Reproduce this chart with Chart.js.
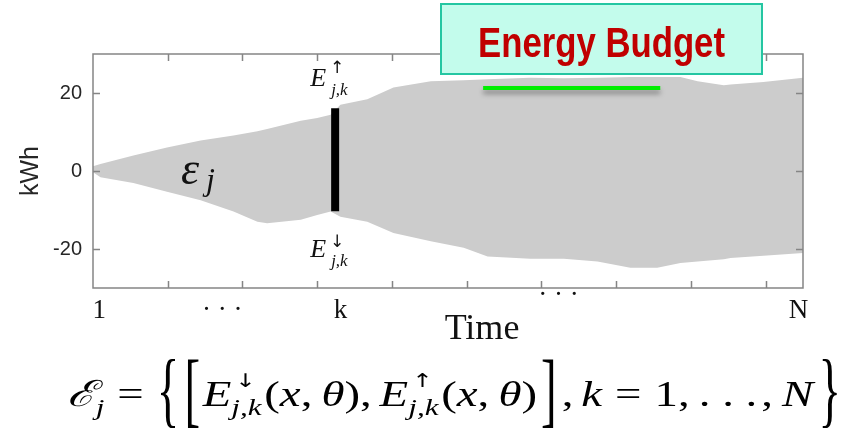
<!DOCTYPE html>
<html>
<head>
<meta charset="utf-8">
<script src="https://cdn.jsdelivr.net/npm/chart.js@4.4.1/dist/chart.umd.min.js"></script>
<style>
  html, body { margin: 0; padding: 0; background: #fff; overflow: hidden; }
  #c { display: block; }
</style>
</head>
<body>
<canvas id="c" width="856" height="430"></canvas>
<script>
// envelope of the energy set
const timeX    = [0, 1, 5.4, 9.9, 14.4, 18.8, 22, 23.3, 27.8, 30, 31.8, 33.1, 36.7, 40.2, 45.2, 49.6, 52.8, 58.5, 63, 67.5, 71.9, 75.5, 78.6, 80.9, 84.4, 85.3, 89.7, 95];
const upperKWh = [1.2, 1.8, 4, 6, 7.8, 9.1, 10.2, 10.8, 12.9, 13.6, 14.4, 17, 18.4, 21.4, 23, 23.3, 23.5, 23.9, 23.8, 23.9, 24.1, 24.1, 24.1, 23, 22, 22.2, 22.8, 23.9];
const lowerKWh = [-0.3, -1.6, -3.1, -5.3, -7.5, -10.4, -13, -13.4, -12.5, -11.3, -10.4, -11.7, -13, -15.9, -18, -19.7, -21.9, -22.5, -22.5, -23.2, -24.8, -24.8, -23.6, -23.2, -22.6, -22.3, -21.7, -21];

// interval at step k and the energy budget line
const barX = [32.4, 32.4];
const barY = [-10.3, 16.1];
const budgetX = [52.2, 75.9];
const budgetY = [21.3, 21.3];

// axes
const yTicks = [-20, 0, 20];
const xTickMarks = [10, 20, 30, 40, 50, 60, 70, 80, 90];
const xLabelVals = [0.85, 17.3, 33.1, 62.3, 94.4];
const xLabelText = ['1', '\u00b7 \u00b7 \u00b7', 'k', '\u00b7 \u00b7 \u00b7', 'N'];

const pts = (xs, ys) => xs.map((x, i) => ({ x, y: ys[i] }));

const SERIF = '"Liberation Serif", "DejaVu Serif", serif';

function drawE(ctx, x, y, arrow) {
  ctx.font = 'italic 26px ' + SERIF;
  ctx.textAlign = 'left';
  ctx.fillText('E', x, y);
  ctx.font = '17px "DejaVu Sans"';
  ctx.textAlign = 'center';
  ctx.fillText(arrow, x + 27, arrow === '\u2191' ? y - 13 : y - 10);
  ctx.font = 'italic 17px ' + SERIF;
  ctx.textAlign = 'left';
  ctx.fillText('j,k', x + 21, y + 9);
}

// formula under the plot, laid out run by run
const I36 = 'italic 36px ' + SERIF, N36 = '36px ' + SERIF, I24 = 'italic 24px ' + SERIF, AR = '19px "DejaVu Sans"';
function interval(arrow) {
  return [
    { t: 'E', f: I36 },
    { sup: arrow, sub: 'j,k' },
    { t: '(', f: N36 }, { t: 'x', f: I36 }, { t: ',', f: N36 }, { gap: 7 },
    { t: '\u03b8', f: I36 }, { t: ')', f: N36 }
  ];
}
const formula = [
  { t: '\u2130', f: 'italic 36px "DejaVu Serif", serif' },
  { t: 'j', f: I24, dy: 9 },
  { gap: 10 }, { t: '=', f: N36 }, { gap: 10 },
  { big: '{' }, { gap: 4 }, { big: '[' }, { gap: 2 },
  ...interval('\u2193'), { t: ',', f: N36 }, { gap: 6 },
  ...interval('\u2191'), { gap: 3 },
  { big: ']' }, { gap: 4 },
  { t: ',', f: N36 }, { gap: 6 }, { t: 'k', f: I36 }, { gap: 10 }, { t: '=', f: N36 }, { gap: 10 },
  { t: '1', f: N36 }, { t: ',', f: N36 }, { gap: 7 }, { t: '. . .', f: N36 }, { gap: 3 }, { t: ',', f: N36 }, { gap: 7 },
  { t: 'N', f: I36 }, { gap: 4 }, { big: '}' }
];

function runFormula(ctx, x0, base, draw) {
  let x = x0;
  for (const r of formula) {
    if (r.gap) { x += r.gap; continue; }
    if (r.big) {
      ctx.font = '36px ' + SERIF;
      const w = ctx.measureText(r.big).width;
      if (draw) {
        ctx.save();
        ctx.translate(x, base - 13);
        ctx.scale(1, 2.3);
        ctx.textBaseline = 'middle';
        ctx.fillText(r.big, 0, 1);
        ctx.restore();
      }
      x += w;
      continue;
    }
    if (r.sup) {
      ctx.font = I24;
      const w = ctx.measureText(r.sub).width;
      if (draw) {
        ctx.fillText(r.sub, x, base + 9);
        ctx.font = AR;
        ctx.fillText(r.sup, x + 3, base - 19);
      }
      x += w + 2;
      continue;
    }
    ctx.font = r.f;
    if (draw) ctx.fillText(r.t, x, base + (r.dy || 0));
    x += ctx.measureText(r.t).width;
  }
  return x - x0;
}

const decor = {
  id: 'decor',
  beforeDatasetDraw(chart, args) {
    if (chart.data.datasets[args.index].shadow) {
      const ctx = chart.ctx;
      ctx.save();
      ctx.shadowColor = 'rgba(0,0,0,0.35)';
      ctx.shadowBlur = 5;
      ctx.shadowOffsetY = 4;
    }
  },
  afterDatasetDraw(chart, args) {
    if (chart.data.datasets[args.index].shadow) chart.ctx.restore();
  },
  afterDraw(chart) {
    const ctx = chart.ctx;
    const a = chart.chartArea;
    const xs = chart.scales.x, ys = chart.scales.y;

    // axes box with inward ticks
    ctx.save();
    ctx.strokeStyle = '#858585';
    ctx.lineWidth = 1.5;
    ctx.strokeRect(a.left, a.top, a.right - a.left, a.bottom - a.top);
    ctx.beginPath();
    for (const v of xTickMarks) {
      const px = Math.round(xs.getPixelForValue(v)) + 0.5;
      ctx.moveTo(px, a.bottom); ctx.lineTo(px, a.bottom - 7);
      ctx.moveTo(px, a.top); ctx.lineTo(px, a.top + 7);
    }
    for (const v of yTicks) {
      const py = Math.round(ys.getPixelForValue(v)) + 0.5;
      ctx.moveTo(a.left, py); ctx.lineTo(a.left + 7, py);
      ctx.moveTo(a.right, py); ctx.lineTo(a.right - 7, py);
    }
    ctx.stroke();

    // x labels 1 ... k ... N and Time
    ctx.fillStyle = '#111';
    ctx.textAlign = 'center';
    ctx.font = '27px ' + SERIF;
    xLabelVals.forEach((v, i) => {
      const lift = i === 3 ? 15 : 0;
      ctx.fillText(xLabelText[i], xs.getPixelForValue(v), 318 - lift);
    });
    ctx.font = '36px ' + SERIF;
    ctx.fillText('Time', 482, 339);

    // interval labels at the black bar
    ctx.fillStyle = '#111';
    const bx = xs.getPixelForValue(barX[0]);
    drawE(ctx, bx - 25, ys.getPixelForValue(barY[1]) - 22, '\u2191');
    drawE(ctx, bx - 25, ys.getPixelForValue(barY[0]) + 46, '\u2193');

    // epsilon_j
    ctx.textAlign = 'left';
    ctx.font = 'italic 46px ' + SERIF;
    ctx.fillText('\u03b5', 181, 184);
    ctx.font = 'italic 32px ' + SERIF;
    ctx.fillText('j', 206, 190);

    // Energy Budget box
    ctx.fillStyle = '#c3fcec';
    ctx.fillRect(441, 4, 321, 70);
    ctx.strokeStyle = '#24c6a2';
    ctx.lineWidth = 2;
    ctx.strokeRect(441, 4, 321, 70);
    ctx.fillStyle = '#c00000';
    ctx.font = 'bold 43px "Liberation Sans Narrow", "Liberation Sans", Arial, sans-serif';
    const ew = ctx.measureText('Energy Budget').width;
    ctx.save();
    ctx.translate(478, 57);
    ctx.scale(247 / ew, 1);
    ctx.textAlign = 'left';
    ctx.fillText('Energy Budget', 0, 0);
    ctx.restore();

    // set definition
    ctx.fillStyle = '#000';
    ctx.textAlign = 'left';
    ctx.textBaseline = 'alphabetic';
    const fw = runFormula(ctx, 0, 0, false);
    ctx.save();
    ctx.translate(67, 0);
    ctx.scale(774 / fw, 1);
    runFormula(ctx, 0, 406, true);
    ctx.restore();
    ctx.restore();
  }
};

new Chart(document.getElementById('c'), {
  type: 'line',
  data: {
    datasets: [
      { data: pts(barX, barY), borderColor: '#000', borderWidth: 8, borderCapStyle: 'butt', pointRadius: 0, order: 0 },
      { data: pts(budgetX, budgetY), borderColor: '#00ee00', borderWidth: 4, borderCapStyle: 'butt', pointRadius: 0, order: 1, shadow: true },
      { data: pts(timeX, upperKWh), borderWidth: 0, borderColor: 'rgba(0,0,0,0)', backgroundColor: '#cccccc', fill: '+1', pointRadius: 0, tension: 0, order: 5 },
      { data: pts(timeX, lowerKWh), borderWidth: 0, borderColor: 'rgba(0,0,0,0)', fill: false, pointRadius: 0, tension: 0, order: 6 }
    ]
  },
  options: {
    responsive: false,
    animation: false,
    devicePixelRatio: 1,
    layout: { padding: { left: 0, right: 53, top: 54, bottom: 0 } },
    plugins: { legend: { display: false }, tooltip: { enabled: false } },
    scales: {
      x: {
        type: 'linear', min: 0, max: 95,
        grid: { display: false, drawTicks: false },
        border: { display: false },
        ticks: { display: false },
        afterFit: s => { s.height = 142; }
      },
      y: {
        min: -30, max: 30,
        grid: { display: false, drawTicks: false },
        border: { display: false },
        afterBuildTicks: s => { s.ticks = yTicks.map(v => ({ value: v })); },
        ticks: { padding: 11, color: '#262626', font: { family: 'Liberation Sans', size: 20 } },
        title: { display: true, text: 'kWh', color: '#262626', font: { family: 'Liberation Sans', size: 25 }, padding: { top: 16, bottom: 0 } },
        afterFit: s => { s.width = 93; }
      }
    }
  },
  plugins: [decor]
});
</script>
</body>
</html>
